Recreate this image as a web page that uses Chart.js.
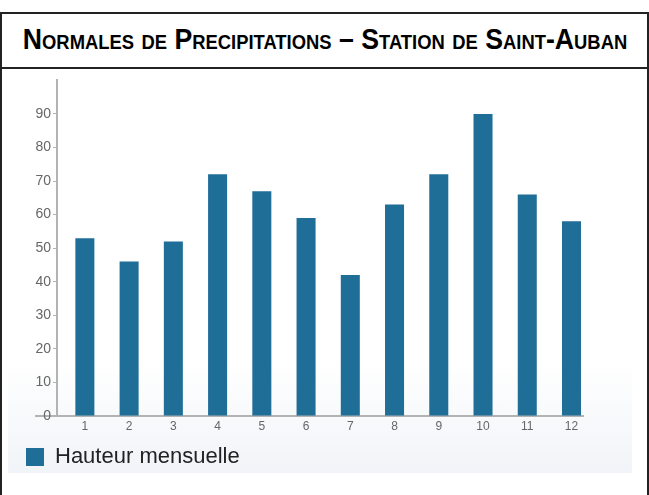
<!DOCTYPE html>
<html>
<head>
<meta charset="utf-8">
<script src="https://cdn.jsdelivr.net/npm/chart.js@4/dist/chart.umd.min.js"></script>
<style>
  html, body { margin: 0; padding: 0; background: #fff; }
  body { width: 649px; height: 495px; position: relative; overflow: hidden; }
  .frame {
    position: absolute; left: 0; top: 12px; width: 645px; height: 500px;
    border: 2px solid #222; border-bottom: none;
  }
  .title {
    position: relative; height: 53px; border-bottom: 2px solid #222;
    font-family: "Liberation Sans", Arial, sans-serif;
    font-weight: bold; font-variant: small-caps; font-size: 29px;
    color: #000; line-height: 51px;
  }
  .title span {
    position: absolute; left: 50%; top: 0; white-space: nowrap;
    transform: translateX(-50%) scaleX(0.92);
  }
  .panel {
    position: absolute; left: 8px; top: 70px; width: 624px; height: 403px;
    background: linear-gradient(to bottom, #ffffff 0%, #ffffff 72%, #f1f4f8 100%);
  }
  #wrap { position: absolute; left: 8px; top: 70px; width: 624px; height: 420px; }
</style>
</head>
<body>
<div class="frame"><div class="title"><span id="ttl">Normales de Precipitations – Station de Saint-Auban</span></div></div>
<div class="panel"></div>
<div id="wrap"><canvas id="chart"></canvas></div>
<script>
// mois (1 a 12) et hauteurs moyennes en mm
const months = [1, 2, 3, 4, 5, 6, 7, 8, 9, 10, 11, 12];
const monthLabels = ['1', '2', '3', '4', '5', '6', '7', '8', '9', '10', '11', '12'];
const rainfall = [53, 46, 52, 72, 67, 59, 42, 63, 72, 90, 66, 58];
const yTicks = [0, 10, 20, 30, 40, 50, 60, 70, 80, 90];

const axisGrey = '#b3b3b3';

// prolonge la ligne du zero a gauche de l'axe, comme sur l'original
const zeroLine = {
  id: 'zeroLine',
  beforeDraw(chart) {
    const { ctx, chartArea, scales } = chart;
    const y = scales.y.getPixelForValue(0);
    ctx.save();
    ctx.strokeStyle = axisGrey;
    ctx.lineWidth = 2;
    ctx.beginPath();
    ctx.moveTo(27, y);
    ctx.lineTo(chartArea.left, y);
    ctx.stroke();
    ctx.restore();
  },
};

const chart = new Chart(document.getElementById('chart'), {
  type: 'bar',
  data: {
    datasets: [{
      label: 'Hauteur mensuelle',
      data: months.map((m, i) => ({ x: m, y: rainfall[i] })),
      backgroundColor: '#1f6e98',
      borderWidth: 0,
      categoryPercentage: 1,
      barPercentage: 0.43,
    }],
  },
  options: {
    responsive: true,
    maintainAspectRatio: false,
    animation: false,
    layout: { padding: { left: 10, top: 8, right: 49, bottom: 12 } },
    plugins: {
      tooltip: { enabled: false },
      legend: {
        position: 'bottom',
        align: 'start',
        labels: {
          boxWidth: 18,
          boxHeight: 18,
          padding: 8,
          color: '#222',
          font: { family: 'Liberation Sans, Arial, sans-serif', size: 22 },
        },
      },
    },
    scales: {
      x: {
        type: 'linear',
        offset: false,
        min: 0.37,
        max: 12.26,
        afterBuildTicks: (scale) => { scale.ticks = months.map((v) => ({ value: v })); },
        afterFit: (scale) => { scale.height = 22; },
        grid: { display: false, drawTicks: false },
        border: { color: axisGrey, width: 2 },
        ticks: {
          padding: 3,
          color: '#666',
          font: { family: 'Liberation Sans, Arial, sans-serif', size: 12 },
          callback: (v) => monthLabels[months.indexOf(v)] ?? '',
        },
      },
      y: {
        min: 0,
        max: 100,
        afterBuildTicks: (scale) => { scale.ticks = yTicks.concat([100]).map((v) => ({ value: v })); },
        afterFit: (scale) => { scale.width = 39; },
        grid: {
          drawOnChartArea: false,
          tickLength: 4,
          tickColor: (c) => (c.tick && (c.tick.value === 100 || c.tick.value === 0) ? 'rgba(0,0,0,0)' : axisGrey),
        },
        border: { color: axisGrey, width: 2 },
        ticks: {
          padding: 2,
          color: '#666',
          font: { family: 'Liberation Sans, Arial, sans-serif', size: 14 },
          callback: (v) => (yTicks.includes(v) ? String(v) : ''),
        },
      },
    },
  },
  plugins: [zeroLine],
});
</script>
</body>
</html>
